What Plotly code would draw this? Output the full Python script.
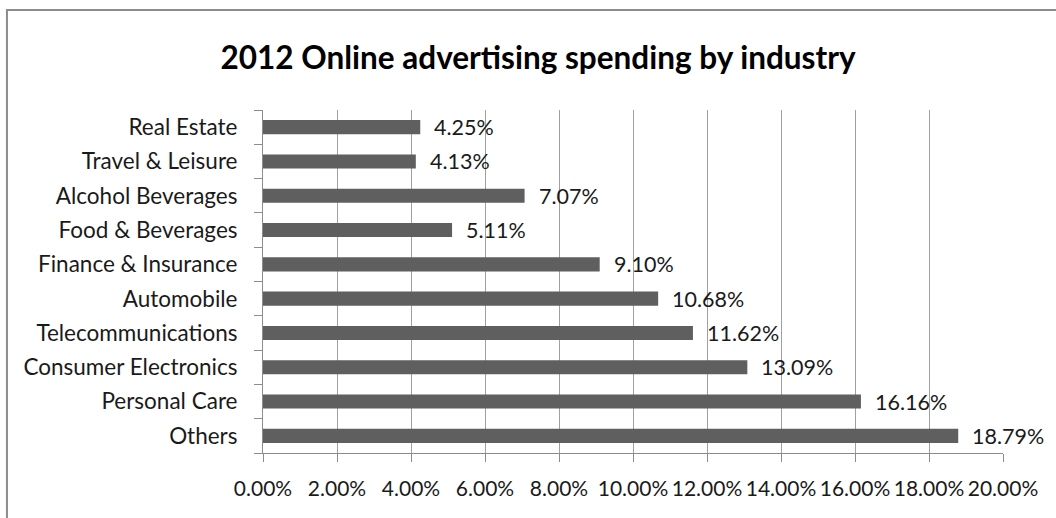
import plotly.graph_objects as go

# Categories listed bottom-to-top (Plotly draws the first category at the bottom)
industries = [
    "Others", "Personal Care", "Consumer Electronics", "Telecommunications",
    "Automobile", "Finance & Insurance", "Food & Beverages",
    "Alcohol Beverages", "Travel & Leisure", "Real Estate",
]
share_pct = [18.79, 16.16, 13.09, 11.62, 10.68, 9.10, 5.11, 7.07, 4.13, 4.25]
value_labels = ["18.79%", "16.16%", "13.09%", "11.62%", "10.68%",
                "9.10%", "5.11%", "7.07%", "4.13%", "4.25%"]

x_tick_vals = [0, 2, 4, 6, 8, 10, 12, 14, 16, 18, 20]
x_tick_text = ["0.00%", "2.00%", "4.00%", "6.00%", "8.00%", "10.00%",
               "12.00%", "14.00%", "16.00%", "18.00%", "20.00%"]

title_text = "2012 Online advertising spending by industry"

FONT = "Lato, 'Open Sans', sans-serif"
BAR = "#5f5f5f"
GRID = "#a0a0a0"
AXIS = "#8c8c8c"
TEXT = "#1a1a1a"

fig = go.Figure()
fig.add_trace(go.Bar(
    x=share_pct, y=industries, orientation="h",
    marker=dict(color=BAR, line=dict(width=0)),
    width=0.41, hoverinfo="skip",
))

# Value labels just right of each bar end
for v, cat, lab in zip(share_pct, industries, value_labels):
    fig.add_annotation(
        x=v, y=cat, text=lab, showarrow=False,
        xanchor="left", yanchor="middle", xshift=12,
        font=dict(family=FONT, size=21.5, color=TEXT),
    )

fig.update_layout(
    width=1056, height=518,
    margin=dict(l=263, r=53, t=110, b=65),
    paper_bgcolor="white", plot_bgcolor="white",
    showlegend=False,
    title=dict(
        text=title_text, x=0.5095, xanchor="center", y=0.888, yanchor="middle",
        font=dict(family=FONT, size=31.5, color="black", weight="bold"),
    ),
    # chart frame
    shapes=[dict(
        type="rect", xref="paper", yref="paper",
        x0=-0.346, x1=1.2, y0=-0.4, y1=1.2915,
        line=dict(color="#8c8c8c", width=2), fillcolor="rgba(0,0,0,0)",
        layer="below",
    )],
)

fig.update_xaxes(
    range=[0, 20], tickvals=x_tick_vals, ticktext=x_tick_text,
    tickangle=0, automargin=False,
    showgrid=True, gridcolor=GRID, gridwidth=1,
    showline=True, linecolor=AXIS, linewidth=1,
    ticks="outside", ticklen=8, tickcolor=AXIS,
    ticklabelstandoff=9, zeroline=False,
    tickfont=dict(family=FONT, size=21, color=TEXT),
    fixedrange=True,
)
fig.update_yaxes(
    type="category", categoryorder="array", categoryarray=industries,
    automargin=False,
    showgrid=False, showline=True, linecolor=AXIS, linewidth=1,
    ticks="outside", ticklen=8, tickcolor=AXIS, tickson="boundaries",
    ticklabelstandoff=20,
    tickfont=dict(family=FONT, size=22.5, color=TEXT),
    fixedrange=True,
)

fig.write_html("out.html", config={"displayModeBar": False})
